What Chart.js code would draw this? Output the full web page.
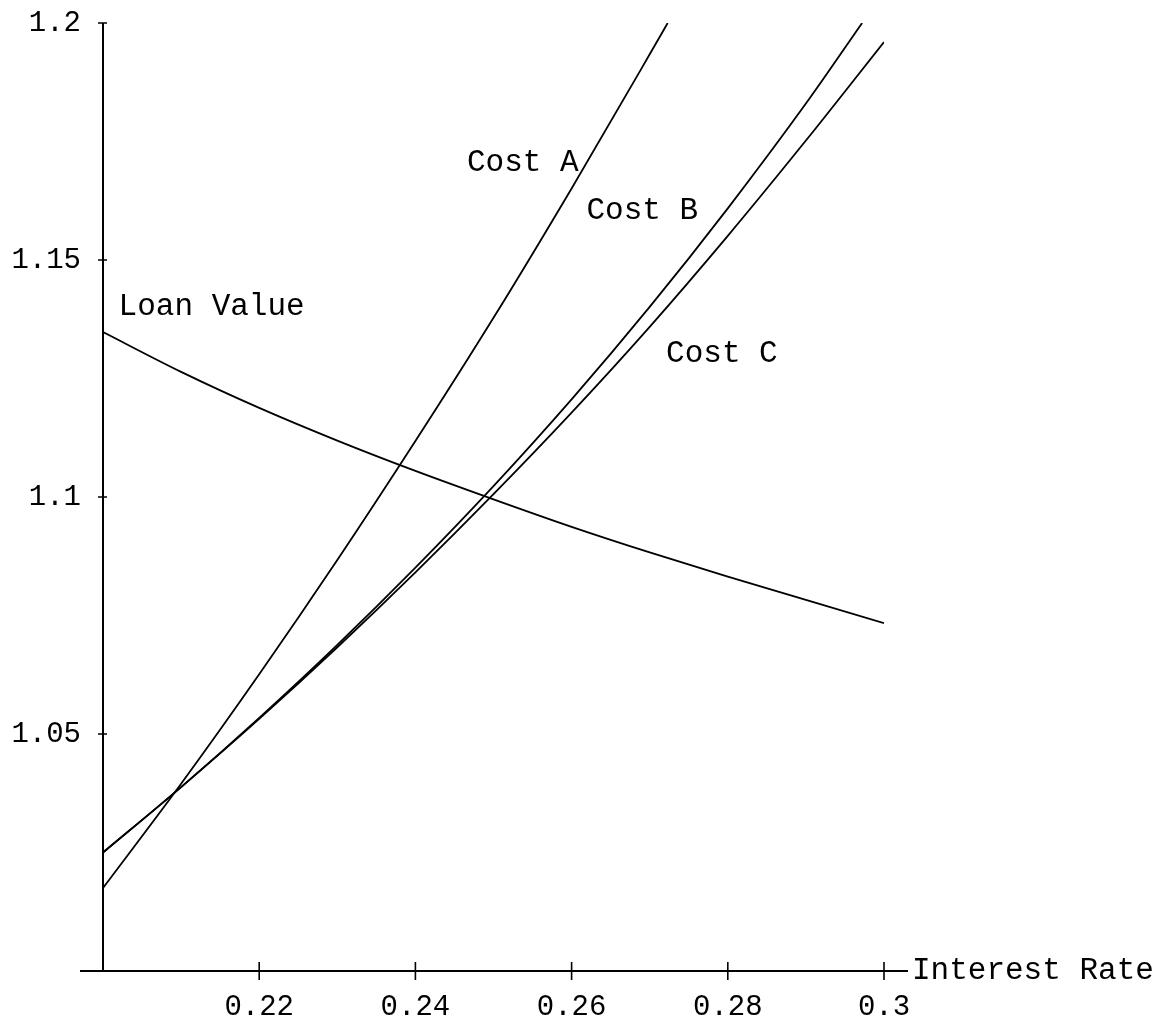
<!DOCTYPE html>
<html>
<head>
<meta charset="utf-8">
<script src="https://cdn.jsdelivr.net/npm/chart.js@4/dist/chart.umd.min.js"></script>
<style>
html,body{margin:0;padding:0;background:#fff;}
#c{display:block;}
</style>
</head>
<body>
<canvas id="c" width="1164" height="1015"></canvas>
<script>
// ---- data ----
const rates      = [0.20, 0.21, 0.22, 0.23, 0.24, 0.25, 0.26, 0.27, 0.28, 0.29, 0.30];
const loanValue  = [1.1348, 1.1264, 1.1188, 1.1119, 1.1055, 1.0995, 1.0937, 1.0883, 1.0832, 1.0783, 1.0734];
const costARates = [0.20, 0.21, 0.22, 0.23, 0.24, 0.25, 0.26, 0.27, 0.2723];
const costA      = [1.0175, 1.0395, 1.0626, 1.0867, 1.1118, 1.1378, 1.1651, 1.1934, 1.2000];
const costBRates = [0.20, 0.21, 0.22, 0.23, 0.24, 0.25, 0.26, 0.27, 0.28, 0.29, 0.2972];
const costB      = [1.0250, 1.0388, 1.0534, 1.0688, 1.0851, 1.1023, 1.1206, 1.1401, 1.1609, 1.1830, 1.2000];
const costC      = [1.0250, 1.0388, 1.0532, 1.0683, 1.0841, 1.1006, 1.1178, 1.1359, 1.1551, 1.1752, 1.1960];
const xTickValues = [0.22, 0.24, 0.26, 0.28, 0.30];
const yTickValues = [1.05, 1.10, 1.15, 1.20];
const seriesNames = ['Loan Value', 'Cost A', 'Cost B', 'Cost C'];
const xTitle = 'Interest Rate';

// label anchor positions (data space, left edge / vertical middle)
const labelAnchors = [
  {x: 0.2020, y: 1.1401},
  {x: 0.2466, y: 1.1705},
  {x: 0.2619, y: 1.1603},
  {x: 0.2721, y: 1.1302}
];

const FONT = "'Liberation Mono', 'Courier New', monospace";
const toPts = (xs, ys) => xs.map((x, i) => ({x: x, y: ys[i]}));

const lineStyle = {
  borderColor: '#000', borderWidth: 1.8, pointRadius: 0, fill: false,
  cubicInterpolationMode: 'monotone'
};

const axesPlugin = {
  id: 'axesPlugin',
  afterDraw(chart) {
    const ctx = chart.ctx;
    const a = chart.chartArea;
    const xs = chart.scales.x, ys = chart.scales.y;
    ctx.save();
    ctx.strokeStyle = '#000';
    ctx.lineWidth = 2;
    ctx.beginPath();
    ctx.moveTo(a.left, a.top);
    ctx.lineTo(a.left, a.bottom);
    ctx.moveTo(a.left - 23, a.bottom);
    ctx.lineTo(a.right + 24, a.bottom);
    ctx.stroke();
    ctx.lineWidth = 1.6;
    ctx.beginPath();
    yTickValues.forEach(v => {
      const py = ys.getPixelForValue(v);
      ctx.moveTo(a.left - 5, py);
      ctx.lineTo(a.left + 4, py);
    });
    xTickValues.forEach(v => {
      const px = xs.getPixelForValue(v);
      ctx.moveTo(px, a.bottom - 9);
      ctx.lineTo(px, a.bottom + 9);
    });
    ctx.stroke();
    ctx.fillStyle = '#000';
    ctx.font = '31px ' + FONT;
    ctx.textBaseline = 'middle';
    ctx.textAlign = 'left';
    ctx.fillText(xTitle, a.right + 28, a.bottom);
    seriesNames.forEach((n, i) => {
      const p = labelAnchors[i];
      ctx.fillText(n, xs.getPixelForValue(p.x), ys.getPixelForValue(p.y));
    });
    ctx.restore();
  }
};

const fmt = v => String(Number(v.toFixed(2)));

new Chart(document.getElementById('c'), {
  type: 'line',
  data: {
    datasets: [
      Object.assign({label: seriesNames[0], data: toPts(rates, loanValue)}, lineStyle),
      Object.assign({label: seriesNames[1], data: toPts(costARates, costA)}, lineStyle),
      Object.assign({label: seriesNames[2], data: toPts(costBRates, costB)}, lineStyle),
      Object.assign({label: seriesNames[3], data: toPts(rates, costC)}, lineStyle)
    ]
  },
  options: {
    responsive: false,
    devicePixelRatio: 1,
    animation: false,
    layout: {padding: {left: 0, top: 23, right: 280, bottom: 0}},
    plugins: {legend: {display: false}, tooltip: {enabled: false}},
    scales: {
      x: {
        type: 'linear', min: 0.2, max: 0.3,
        grid: {display: false}, border: {display: false},
        afterBuildTicks(s) { s.ticks = xTickValues.map(v => ({value: v})); },
        ticks: {
          autoSkip: false, maxRotation: 0, padding: 11, color: '#000',
          font: {family: FONT, size: 29},
          callback: v => fmt(v)
        },
        afterFit(s) { s.height = 44; s.paddingLeft = 0; s.paddingRight = 0; }
      },
      y: {
        type: 'linear', min: 1.0, max: 1.2,
        grid: {display: false}, border: {display: false},
        afterBuildTicks(s) { s.ticks = yTickValues.map(v => ({value: v})); },
        ticks: {
          autoSkip: false, padding: 14, color: '#000',
          font: {family: FONT, size: 29},
          callback: v => fmt(v)
        },
        afterFit(s) { s.width = 103; s.paddingTop = 0; s.paddingBottom = 0; }
      }
    }
  },
  plugins: [axesPlugin]
});
</script>
</body>
</html>
